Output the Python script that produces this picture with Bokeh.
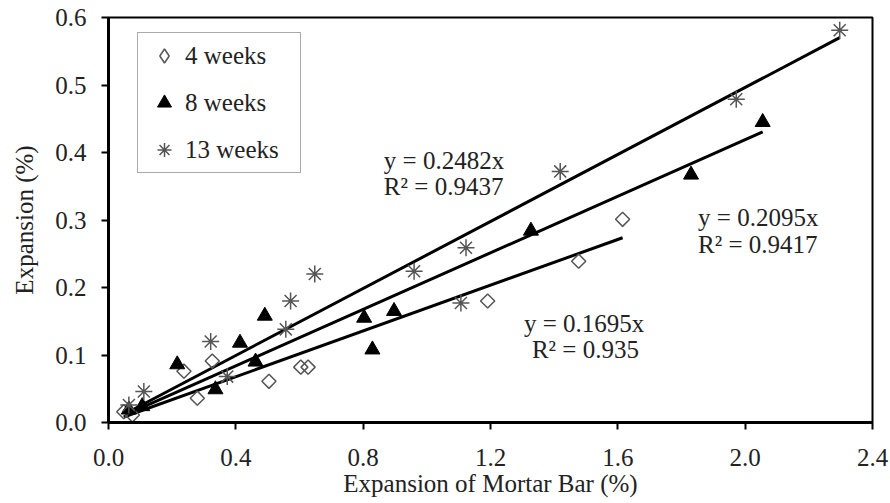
import numpy as np
from bokeh.plotting import figure
from bokeh.models import (Range1d, FixedTicker, PrintfTickFormatter, Legend, LegendItem, Label,
                          ColumnDataSource)
from bokeh.embed import file_html
from bokeh.resources import INLINE

# ---- data ----
w4_x = [0.048, 0.075, 0.237, 0.279, 0.326, 0.504, 0.604, 0.627, 1.191, 1.477, 1.615]
w4_y = [0.016, 0.011, 0.076, 0.036, 0.091, 0.061, 0.082, 0.082, 0.180, 0.239, 0.301]

w8_x = [0.064, 0.106, 0.216, 0.336, 0.413, 0.462, 0.491, 0.803, 0.829, 0.897, 1.327, 1.830, 2.055]
w8_y = [0.019, 0.024, 0.086, 0.049, 0.118, 0.090, 0.158, 0.155, 0.108, 0.165, 0.284, 0.367, 0.445]

w13_x = [0.064, 0.111, 0.321, 0.373, 0.557, 0.572, 0.648, 0.960, 1.107, 1.123, 1.419, 1.972, 2.297]
w13_y = [0.026, 0.046, 0.120, 0.068, 0.138, 0.180, 0.220, 0.224, 0.177, 0.259, 0.372, 0.479, 0.581]

series_labels = ["4 weeks", "8 weeks", "13 weeks"]
slopes = {"4": 0.1695, "8": 0.2095, "13": 0.2482}
r2 = {"4": "0.935", "8": "0.9417", "13": "0.9437"}

x_ticks = [0.0, 0.4, 0.8, 1.2, 1.6, 2.0, 2.4]
y_ticks = [0.0, 0.1, 0.2, 0.3, 0.4, 0.5, 0.6]

FONT = "Liberation Serif"
FS = "25px"
TXT = "#222222"

p = figure(width=890, height=503, output_backend="svg", toolbar_location=None,
           x_range=Range1d(0, 2.4), y_range=Range1d(0, 0.6),
           min_border_left=108, min_border_right=18, min_border_top=17, min_border_bottom=81)
p.background_fill_color = "white"
p.border_fill_color = "white"
p.outline_line_color = "black"
p.outline_line_width = 2
p.xgrid.visible = False
p.ygrid.visible = False

for ax, ticks in ((p.xaxis[0], x_ticks), (p.yaxis[0], y_ticks)):
    ax.ticker = FixedTicker(ticks=ticks)
    ax.formatter = PrintfTickFormatter(format="%.1f")
    ax.axis_line_width = 3
    ax.axis_line_color = "black"
    ax.major_tick_line_width = 2
    ax.major_tick_in = 0
    ax.major_tick_out = 7
    ax.minor_tick_line_color = None
    ax.major_label_text_font = FONT
    ax.major_label_text_font_size = FS
    ax.major_label_text_color = TXT
    ax.axis_label_text_font = FONT
    ax.axis_label_text_font_size = FS
    ax.axis_label_text_font_style = "normal"
    ax.axis_label_text_color = TXT

p.xaxis.axis_label = "Expansion of Mortar Bar (%)"
p.yaxis.axis_label = "Expansion (%)"
p.xaxis.major_label_standoff = 19
p.xaxis.axis_label_standoff = 1
p.yaxis.major_label_standoff = 15
p.yaxis.axis_label_standoff = 14

# trend lines (through origin, spanning each series' x-range)
def trend(xs, k):
    xx = np.array([min(xs), max(xs)])
    return xx, k * xx

for xs, key in ((w4_x, "4"), (w8_x, "8"), (w13_x, "13")):
    lx, ly = trend(xs, slopes[key])
    p.line(lx, ly, line_color="black", line_width=3)

src4 = ColumnDataSource(dict(x=w4_x, y=w4_y))
r4 = p.scatter("x", "y", source=src4, marker="square", angle=np.pi / 4, size=10,
               fill_color="white", fill_alpha=0, line_color="#555555", line_width=1.5)
r8 = p.scatter(w8_x, w8_y, marker="triangle", size=15,
               fill_color="black", line_color="black")
r13 = p.scatter(w13_x, w13_y, marker="asterisk", size=17,
                line_color="#555555", line_width=1.5)
# legend glyph for the diamond series (legend markers cannot be rotated);
# size 0 so that it draws nothing on the plot itself, the legend sizes its own glyph
r4_leg = p.scatter("x", "y", source=src4, marker="diamond", size=0,
                   fill_color="white", fill_alpha=0, line_color="#555555", line_width=1.5)

# equation labels
def eq(x, y, txt, align="left"):
    p.add_layout(Label(x=x, y=y, text=txt, text_font=FONT, text_font_size=FS,
                       text_color=TXT, text_align=align, text_baseline="middle"))

eq(0.865, 0.388, "y = %.4fx" % slopes["13"])
eq(0.865, 0.349, "R² = " + r2["13"])
eq(1.852, 0.303, "y = %.4fx" % slopes["8"])
eq(1.852, 0.264, "R² = " + r2["8"])
eq(1.305, 0.147, "y = %.4fx" % slopes["4"])
eq(1.330, 0.108, "R² = " + r2["4"])

legend = Legend(items=[LegendItem(label=series_labels[0], renderers=[r4_leg]),
                       LegendItem(label=series_labels[1], renderers=[r8]),
                       LegendItem(label=series_labels[2], renderers=[r13])],
                location=(29, 249), margin=0, padding=5,
                glyph_width=42, glyph_height=35, label_height=35, label_standoff=0,
                label_width=110, spacing=12,
                label_text_font=FONT, label_text_font_size=FS, label_text_color=TXT,
                border_line_color="#555555", border_line_width=1.5,
                background_fill_color="white", background_fill_alpha=1)
p.add_layout(legend)

open("out.html", "w").write(file_html(p, INLINE))
